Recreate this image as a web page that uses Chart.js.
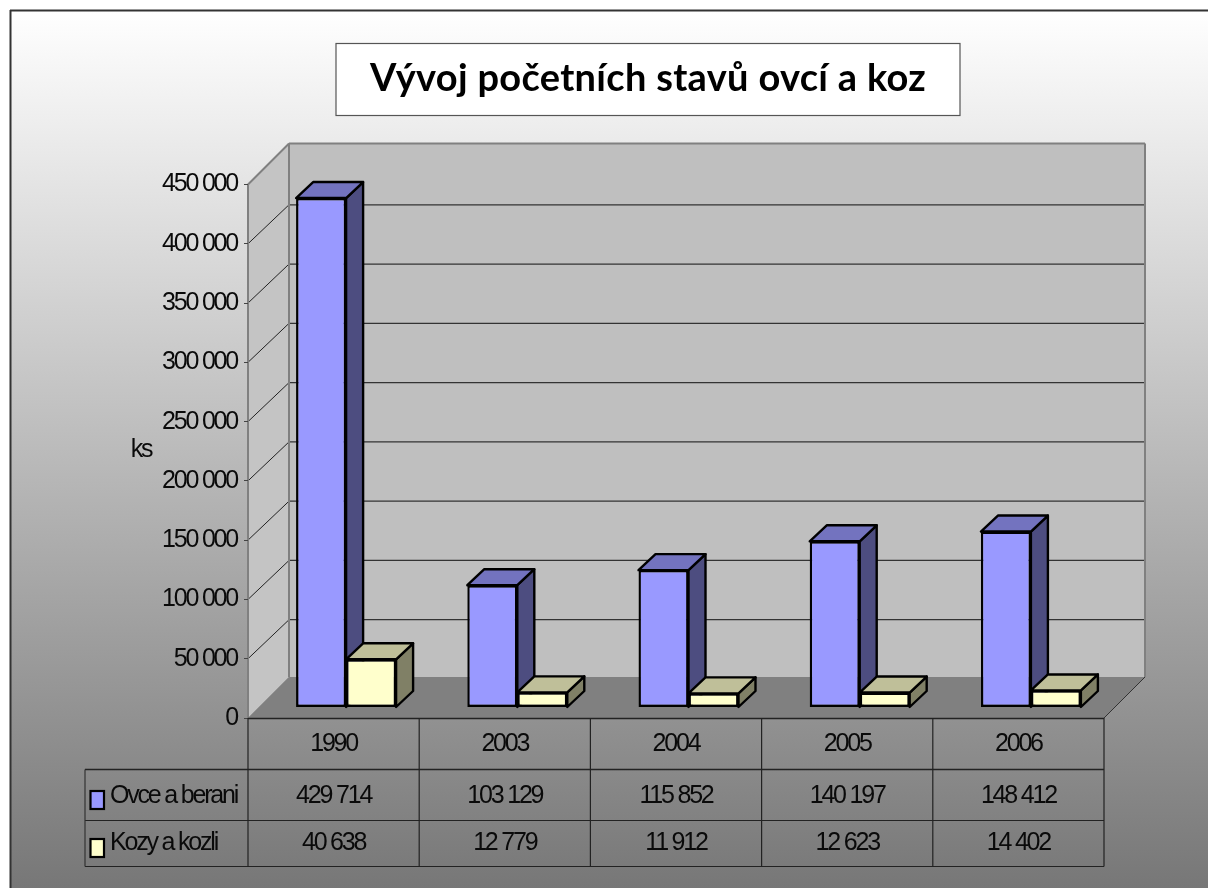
<!DOCTYPE html>
<html>
<head>
<meta charset="utf-8">
<title>Vývoj početních stavů ovcí a koz</title>
<script src="https://cdn.jsdelivr.net/npm/chart.js@4/dist/chart.umd.min.js"></script>
<style>
    html, body { margin: 0; padding: 0; background: #fff; }
    canvas { display: block; }
</style>
</head>
<body>
<canvas id="stadaChart" width="1208" height="888"></canvas>
<script>
// Data
const years = ['1990', '2003', '2004', '2005', '2006'];
const ovce = [429714, 103129, 115852, 140197, 148412];
const kozy = [40638, 12779, 11912, 12623, 14402];
const yTicks = [0, 50000, 100000, 150000, 200000, 250000, 300000, 350000, 400000, 450000];
const titleText = 'Vývoj početních stavů ovcí a koz';
const yTitle = 'ks';

const textFont = '"Liberation Sans", Arial, sans-serif';
const textSize = 25;
const tightText = '-2.2px';

// depth of the plot box and of the bars
const wall = { dx: 41, dy: -41, gridDy: -39 };
const barShift = { x: 12.5, y: -10.5 };
const barDepth = { dx: 17, dy: -16 };

function spaced(value) {
    return String(value).replace(/\B(?=(\d{3})+$)/g, ' ');
}

function poly(ctx, points, fill, stroke, lineWidth) {
    ctx.beginPath();
    points.forEach((p, i) => i ? ctx.lineTo(p[0], p[1]) : ctx.moveTo(p[0], p[1]));
    ctx.closePath();
    if (fill) {
        ctx.fillStyle = fill;
        ctx.fill();
    }
    if (stroke) {
        ctx.strokeStyle = stroke;
        ctx.lineWidth = lineWidth;
        ctx.stroke();
    }
}

function line(ctx, x1, y1, x2, y2, color, lineWidth) {
    ctx.beginPath();
    ctx.moveTo(x1, y1);
    ctx.lineTo(x2, y2);
    ctx.strokeStyle = color;
    ctx.lineWidth = lineWidth;
    ctx.stroke();
}

// side and top of the bars, the front comes from the library
function drawBarFaces(chart, datasetIndex) {
    const ctx = chart.ctx;
    const ds = chart.data.datasets[datasetIndex];
    chart.getDatasetMeta(datasetIndex).data.forEach(bar => {
        const { x, y, base, width } = bar.getProps(['x', 'y', 'base', 'width'], true);
        const l = x - width / 2;
        const r = x + width / 2;
        const dx = barDepth.dx;
        const dy = barDepth.dy;
        ctx.lineJoin = 'round';
        poly(ctx, [[r, y], [r + dx, y + dy], [r + dx, base + dy], [r, base]], ds.sideColor, '#000', 2.4);
        poly(ctx, [[l, y], [l + dx, y + dy], [r + dx, y + dy], [r, y]], ds.topColor, '#000', 2.4);
    });
}

// Frame, title box, walls and floor
const backdrop = {
    id: 'backdrop',
    afterInit(chart) {
        const block = chart.titleBlock;
        const drawTitle = block.draw.bind(block);
        block.draw = function () {
            chart.ctx.save();
            chart.ctx.letterSpacing = '0.3px';
            drawTitle();
            chart.ctx.restore();
        };
    },
    afterLayout(chart) {
        chart.titleBlock.left = 88;
        chart.titleBlock.right = 1208;
    },
    beforeDraw(chart) {
        const ctx = chart.ctx;
        const { left, right } = chart.chartArea;
        const y = chart.scales.y;
        const top = y.getPixelForValue(450000);
        const bottom = y.getPixelForValue(0);

        ctx.save();
        ctx.fillStyle = '#fff';
        ctx.fillRect(0, 0, chart.width, chart.height);
        const bg = ctx.createLinearGradient(0, 10, 0, 888);
        bg.addColorStop(0, '#ffffff');
        bg.addColorStop(1, '#777777');
        ctx.fillStyle = bg;
        ctx.fillRect(10, 10, chart.width - 10, chart.height - 10);
        line(ctx, 10.5, 10, 10.5, 888, '#333', 2);
        line(ctx, 10, 10.5, 1208, 10.5, '#333', 2);

        ctx.fillStyle = '#fff';
        ctx.fillRect(336, 43.5, 624, 72);
        ctx.strokeStyle = '#555';
        ctx.lineWidth = 1.2;
        ctx.strokeRect(336, 43.5, 624, 72);

        // left wall, back wall, floor
        poly(ctx, [[left, top], [left + wall.dx, top + wall.dy], [left + wall.dx, bottom + wall.dy], [left, bottom]], '#c4c4c4');
        poly(ctx, [[left + wall.dx, top + wall.dy], [right + wall.dx, top + wall.dy], [right + wall.dx, bottom + wall.dy], [left + wall.dx, bottom + wall.dy]], '#bfbfbf');
        poly(ctx, [[left, bottom], [left + wall.dx, bottom + wall.dy], [right + wall.dx, bottom + wall.dy], [right, bottom]], '#808080');

        yTicks.forEach(v => {
            if (v === 0 || v === 450000) return;
            const py = y.getPixelForValue(v);
            line(ctx, left, py, left + wall.dx, py + wall.gridDy, '#222', 1);
            line(ctx, left + wall.dx, py + wall.gridDy, right + wall.dx, py + wall.gridDy, '#333', 1.2);
        });

        // wall outlines
        line(ctx, left, top, left, bottom, '#808080', 2);
        line(ctx, left, top, left + wall.dx, top + wall.dy, '#808080', 2);
        line(ctx, left + wall.dx, top + wall.dy, left + wall.dx, bottom + wall.dy, '#808080', 2);
        line(ctx, left + wall.dx, top + wall.dy, right + wall.dx, top + wall.dy, '#808080', 2);
        line(ctx, right + wall.dx, top + wall.dy, right + wall.dx, bottom + wall.dy, '#808080', 2);
        line(ctx, right, bottom, right + wall.dx, bottom + wall.dy, '#333', 1);
        ctx.restore();

        ctx.letterSpacing = tightText;
    },
    // bars go left to right so the goats sit in front of the side of the sheep
    beforeDatasetsDraw(chart) {
        const ctx = chart.ctx;
        ctx.save();
        ctx.translate(barShift.x, barShift.y);
        chart.data.datasets.forEach((ds, i) => {
            drawBarFaces(chart, i);
            chart.getDatasetMeta(i).controller.draw();
        });
        ctx.restore();
        return false;
    },
    // data table under the plot
    afterDraw(chart) {
        const ctx = chart.ctx;
        const { left, right, bottom } = chart.chartArea;
        const x = chart.scales.x;
        const rows = [
            { y: 769.5, textY: 796, boxY: 791 },
            { y: 820.5, textY: 843, boxY: 839 }
        ];
        const tableBottom = 866.5;

        ctx.save();
        line(ctx, left, bottom + 0.5, right, bottom + 0.5, '#222', 1.5);
        line(ctx, 85, rows[0].y, right, rows[0].y, '#222', 1.5);
        line(ctx, 85, rows[1].y, right, rows[1].y, '#222', 1.2);
        line(ctx, 85, tableBottom, right, tableBottom, '#222', 1.2);
        line(ctx, 85, rows[0].y, 85, tableBottom, '#333', 1.2);
        for (let i = 0; i <= years.length; i++) {
            const px = left + (right - left) * i / years.length;
            line(ctx, px, bottom, px, tableBottom, '#222', 1.2);
        }

        ctx.textBaseline = 'middle';
        ctx.letterSpacing = tightText;
        chart.data.datasets.forEach((ds, d) => {
            const row = rows[d];
            ctx.fillStyle = ds.backgroundColor;
            ctx.fillRect(90.5, row.boxY, 13.5, 18);
            ctx.strokeStyle = '#000';
            ctx.lineWidth = 2.2;
            ctx.strokeRect(90.5, row.boxY, 13.5, 18);

            ctx.fillStyle = '#0a0a0a';
            ctx.font = textSize + 'px ' + textFont;
            ctx.textAlign = 'left';
            ctx.fillText(ds.label, 110, row.textY);
            ctx.textAlign = 'center';
            ds.data.forEach((v, i) => ctx.fillText(spaced(v), x.getPixelForValue(i), row.textY));
        });

        ctx.textAlign = 'center';
        ctx.fillText(yTitle, 141, 450);
        ctx.restore();
    }
};

const stadaCtx = document.getElementById('stadaChart').getContext('2d');
const stadaChart = new Chart(stadaCtx, {
    type: 'bar',
    data: {
        labels: years,
        datasets: [{
            label: 'Ovce a berani',
            data: ovce,
            backgroundColor: '#9999ff',
            sideColor: '#4d4d80',
            topColor: '#7373bf',
            borderColor: '#000',
            borderWidth: 2.4,
            borderSkipped: false,
            barPercentage: 1,
            categoryPercentage: 0.584
        }, {
            label: 'Kozy a kozli',
            data: kozy,
            backgroundColor: '#ffffcc',
            sideColor: '#808066',
            topColor: '#bfbf99',
            borderColor: '#000',
            borderWidth: 2.4,
            borderSkipped: false,
            barPercentage: 1,
            categoryPercentage: 0.584
        }]
    },
    options: {
        responsive: false,
        animation: false,
        layout: {
            padding: { right: 104 }
        },
        plugins: {
            legend: { display: false },
            tooltip: { enabled: false },
            title: {
                display: true,
                text: titleText,
                color: '#000',
                font: { family: 'Lato', size: 38, weight: 'bold' },
                padding: { top: 55.7, bottom: 83.2 }
            }
        },
        scales: {
            x: {
                afterFit: function(scale) {
                    scale.height = 170;
                },
                grid: { display: false },
                border: { display: false },
                ticks: {
                    color: '#0a0a0a',
                    font: { family: textFont, size: textSize },
                    padding: 3,
                    maxRotation: 0,
                    autoSkip: false
                }
            },
            y: {
                min: 0,
                max: 450000,
                afterFit: function(scale) {
                    scale.width = 248;
                },
                afterBuildTicks: function(scale) {
                    scale.ticks = yTicks.map(v => ({ value: v }));
                },
                grid: {
                    drawOnChartArea: false,
                    drawTicks: true,
                    tickLength: 4,
                    color: '#444'
                },
                border: { display: false },
                ticks: {
                    color: '#0a0a0a',
                    font: { family: textFont, size: textSize },
                    padding: 7,
                    autoSkip: false,
                    callback: function(value) {
                        return spaced(value);
                    }
                }
            }
        }
    },
    plugins: [backdrop]
});
</script>
</body>
</html>
